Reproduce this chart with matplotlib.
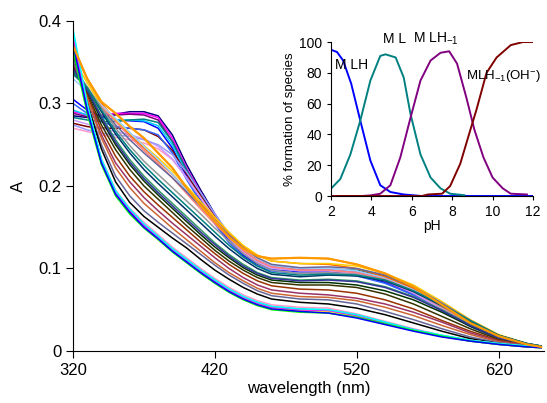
import matplotlib
matplotlib.use("Agg")
import matplotlib.pyplot as plt

plt.rcParams['font.family'] = ['Liberation Sans', 'DejaVu Sans']
plt.rcParams['mathtext.fontset'] = 'custom'
plt.rcParams['mathtext.rm'] = 'Liberation Sans'
plt.rcParams['mathtext.default'] = 'regular'

# wavelengths (nm) at which the spectra are read
wl = [320, 330, 340, 350, 360, 370, 380, 390, 400, 410, 420, 430, 440,
      450, 460, 480, 500, 520, 540, 560, 580, 600, 620, 640, 650]

# shoulder family (low pH)
spec_high = [
    [0.285, 0.283, 0.284, 0.287, 0.290, 0.290, 0.285, 0.262, 0.226, 0.195, 0.166, 0.140, 0.121, 0.109, 0.102, 0.099, 0.099, 0.095, 0.086, 0.071, 0.051, 0.032, 0.016, 0.008, 0.005],
    [0.290, 0.286, 0.286, 0.288, 0.288, 0.288, 0.283, 0.258, 0.222, 0.192, 0.163, 0.138, 0.119, 0.107, 0.101, 0.098, 0.098, 0.094, 0.085, 0.070, 0.050, 0.031, 0.016, 0.008, 0.005],
    [0.288, 0.284, 0.284, 0.286, 0.287, 0.286, 0.280, 0.254, 0.218, 0.188, 0.160, 0.136, 0.118, 0.106, 0.100, 0.097, 0.097, 0.093, 0.084, 0.069, 0.050, 0.031, 0.016, 0.008, 0.005],
    [0.305, 0.292, 0.284, 0.280, 0.279, 0.278, 0.270, 0.246, 0.212, 0.183, 0.156, 0.133, 0.116, 0.105, 0.099, 0.096, 0.096, 0.092, 0.083, 0.068, 0.049, 0.030, 0.015, 0.007, 0.005],
    [0.292, 0.286, 0.282, 0.280, 0.280, 0.279, 0.273, 0.250, 0.216, 0.187, 0.160, 0.137, 0.119, 0.108, 0.102, 0.099, 0.099, 0.096, 0.088, 0.074, 0.054, 0.034, 0.017, 0.008, 0.005],
    [0.283, 0.280, 0.278, 0.278, 0.280, 0.281, 0.277, 0.254, 0.220, 0.190, 0.162, 0.138, 0.120, 0.108, 0.101, 0.098, 0.099, 0.098, 0.091, 0.077, 0.057, 0.036, 0.019, 0.009, 0.006],
    [0.276, 0.272, 0.270, 0.270, 0.270, 0.268, 0.260, 0.243, 0.215, 0.188, 0.162, 0.139, 0.121, 0.109, 0.102, 0.099, 0.099, 0.096, 0.088, 0.073, 0.053, 0.033, 0.017, 0.008, 0.005],
    [0.300, 0.288, 0.278, 0.272, 0.270, 0.268, 0.262, 0.240, 0.208, 0.180, 0.154, 0.131, 0.114, 0.103, 0.097, 0.094, 0.094, 0.091, 0.082, 0.068, 0.049, 0.030, 0.015, 0.007, 0.005],
    [0.270, 0.266, 0.262, 0.259, 0.256, 0.252, 0.245, 0.232, 0.210, 0.186, 0.161, 0.138, 0.120, 0.108, 0.101, 0.098, 0.098, 0.095, 0.086, 0.071, 0.052, 0.032, 0.016, 0.008, 0.005],
    [0.280, 0.275, 0.270, 0.266, 0.262, 0.257, 0.248, 0.233, 0.210, 0.185, 0.160, 0.137, 0.119, 0.107, 0.100, 0.097, 0.097, 0.094, 0.085, 0.070, 0.051, 0.031, 0.016, 0.008, 0.005],
    [0.274, 0.268, 0.264, 0.262, 0.260, 0.256, 0.250, 0.238, 0.217, 0.192, 0.166, 0.142, 0.123, 0.110, 0.103, 0.100, 0.100, 0.097, 0.088, 0.073, 0.053, 0.033, 0.017, 0.008, 0.005],
]
colors_high = ['#000080', '#FF00FF', '#800080', '#0000FF', '#00CCFF', '#008080',
               '#800000', '#3366FF', '#FF99CC', '#CC99FF', '#9999FF']

# intermediate family
spec_orange = [
    [0.370, 0.330, 0.302, 0.288, 0.272, 0.258, 0.240, 0.222, 0.198, 0.176, 0.157, 0.138, 0.124, 0.115, 0.112, 0.113, 0.112, 0.105, 0.094, 0.078, 0.056, 0.034, 0.018, 0.008, 0.005],
    [0.365, 0.330, 0.300, 0.280, 0.262, 0.246, 0.230, 0.214, 0.196, 0.178, 0.160, 0.142, 0.127, 0.116, 0.109, 0.106, 0.105, 0.100, 0.090, 0.076, 0.056, 0.035, 0.018, 0.008, 0.005],
    [0.355, 0.325, 0.298, 0.280, 0.264, 0.249, 0.234, 0.218, 0.200, 0.181, 0.162, 0.144, 0.128, 0.116, 0.109, 0.106, 0.106, 0.103, 0.094, 0.080, 0.060, 0.038, 0.020, 0.009, 0.006],
    [0.330, 0.315, 0.298, 0.282, 0.265, 0.248, 0.232, 0.214, 0.195, 0.176, 0.158, 0.140, 0.124, 0.112, 0.104, 0.100, 0.100, 0.097, 0.088, 0.074, 0.054, 0.034, 0.017, 0.008, 0.005],
    [0.340, 0.318, 0.296, 0.278, 0.260, 0.243, 0.227, 0.210, 0.191, 0.172, 0.154, 0.137, 0.122, 0.110, 0.102, 0.098, 0.098, 0.095, 0.087, 0.073, 0.053, 0.033, 0.017, 0.008, 0.005],
    [0.345, 0.320, 0.294, 0.274, 0.256, 0.240, 0.225, 0.210, 0.193, 0.175, 0.157, 0.140, 0.125, 0.113, 0.105, 0.101, 0.102, 0.100, 0.092, 0.078, 0.058, 0.037, 0.019, 0.009, 0.006],
]
colors_orange = ['#FF9900', '#FF6600', '#FFCC00', '#99CCFF', '#FF8080', '#666699']

# middle family
spec_mid = [
    [0.335, 0.320, 0.295, 0.270, 0.249, 0.230, 0.214, 0.198, 0.182, 0.166, 0.149, 0.133, 0.118, 0.106, 0.098, 0.094, 0.095, 0.093, 0.086, 0.072, 0.054, 0.035, 0.018, 0.009, 0.006],
    [0.338, 0.318, 0.290, 0.263, 0.240, 0.220, 0.203, 0.187, 0.171, 0.155, 0.139, 0.124, 0.111, 0.100, 0.093, 0.090, 0.092, 0.091, 0.085, 0.072, 0.055, 0.036, 0.019, 0.009, 0.006],
    [0.340, 0.318, 0.285, 0.256, 0.232, 0.212, 0.195, 0.179, 0.163, 0.147, 0.131, 0.117, 0.105, 0.095, 0.089, 0.086, 0.087, 0.085, 0.078, 0.066, 0.050, 0.032, 0.017, 0.008, 0.005],
    [0.348, 0.315, 0.280, 0.250, 0.226, 0.206, 0.189, 0.173, 0.157, 0.141, 0.126, 0.113, 0.101, 0.092, 0.086, 0.083, 0.083, 0.080, 0.073, 0.062, 0.047, 0.030, 0.016, 0.008, 0.005],
    [0.345, 0.312, 0.274, 0.244, 0.220, 0.200, 0.184, 0.168, 0.152, 0.137, 0.122, 0.109, 0.098, 0.089, 0.083, 0.080, 0.080, 0.077, 0.069, 0.057, 0.042, 0.027, 0.014, 0.007, 0.005],
    [0.352, 0.310, 0.268, 0.236, 0.212, 0.193, 0.177, 0.162, 0.147, 0.132, 0.118, 0.105, 0.094, 0.085, 0.079, 0.075, 0.074, 0.070, 0.062, 0.051, 0.037, 0.024, 0.013, 0.007, 0.005],
    [0.350, 0.305, 0.262, 0.228, 0.205, 0.186, 0.170, 0.155, 0.141, 0.127, 0.113, 0.100, 0.089, 0.080, 0.074, 0.070, 0.068, 0.064, 0.057, 0.047, 0.035, 0.022, 0.012, 0.007, 0.005],
    [0.342, 0.316, 0.283, 0.253, 0.229, 0.209, 0.192, 0.176, 0.160, 0.144, 0.129, 0.115, 0.103, 0.094, 0.088, 0.085, 0.086, 0.084, 0.077, 0.065, 0.049, 0.031, 0.016, 0.008, 0.005],
    [0.336, 0.319, 0.292, 0.266, 0.244, 0.225, 0.208, 0.192, 0.176, 0.160, 0.144, 0.128, 0.114, 0.103, 0.095, 0.092, 0.093, 0.092, 0.086, 0.073, 0.056, 0.037, 0.019, 0.009, 0.006],
    [0.358, 0.306, 0.258, 0.222, 0.198, 0.179, 0.164, 0.149, 0.135, 0.121, 0.107, 0.095, 0.085, 0.076, 0.070, 0.066, 0.065, 0.061, 0.053, 0.043, 0.031, 0.020, 0.011, 0.006, 0.005],
]
colors_mid = ['#969696', '#003366', '#339966', '#003300', '#333300', '#993300',
              '#993366', '#333399', '#008080', '#CC6633']

# high pH family
spec_low = [
    [0.355, 0.300, 0.250, 0.212, 0.188, 0.170, 0.156, 0.143, 0.130, 0.117, 0.104, 0.092, 0.082, 0.073, 0.067, 0.063, 0.062, 0.057, 0.048, 0.038, 0.027, 0.017, 0.010, 0.006, 0.005],
    [0.362, 0.300, 0.245, 0.205, 0.180, 0.163, 0.150, 0.137, 0.125, 0.111, 0.098, 0.087, 0.077, 0.069, 0.063, 0.059, 0.057, 0.052, 0.044, 0.034, 0.024, 0.015, 0.009, 0.006, 0.005],
    [0.378, 0.296, 0.233, 0.195, 0.173, 0.156, 0.141, 0.126, 0.113, 0.100, 0.088, 0.077, 0.068, 0.061, 0.056, 0.053, 0.052, 0.045, 0.036, 0.027, 0.019, 0.013, 0.009, 0.006, 0.005],
    [0.385, 0.298, 0.232, 0.194, 0.171, 0.153, 0.139, 0.124, 0.111, 0.098, 0.086, 0.075, 0.066, 0.059, 0.054, 0.051, 0.050, 0.044, 0.035, 0.026, 0.019, 0.013, 0.009, 0.006, 0.005],
    [0.368, 0.290, 0.228, 0.191, 0.169, 0.151, 0.137, 0.122, 0.109, 0.096, 0.084, 0.073, 0.064, 0.057, 0.052, 0.049, 0.048, 0.042, 0.033, 0.025, 0.018, 0.012, 0.008, 0.005, 0.004],
    [0.380, 0.295, 0.230, 0.192, 0.170, 0.152, 0.138, 0.123, 0.110, 0.097, 0.085, 0.074, 0.065, 0.058, 0.053, 0.050, 0.049, 0.043, 0.034, 0.026, 0.018, 0.012, 0.008, 0.005, 0.004],
    [0.390, 0.300, 0.232, 0.194, 0.172, 0.154, 0.139, 0.124, 0.111, 0.098, 0.086, 0.075, 0.066, 0.059, 0.054, 0.051, 0.050, 0.044, 0.035, 0.026, 0.019, 0.013, 0.009, 0.006, 0.005],
    [0.365, 0.288, 0.226, 0.188, 0.166, 0.149, 0.135, 0.120, 0.107, 0.094, 0.082, 0.071, 0.062, 0.055, 0.050, 0.047, 0.046, 0.041, 0.033, 0.025, 0.018, 0.012, 0.008, 0.005, 0.004],
    [0.372, 0.292, 0.228, 0.190, 0.168, 0.150, 0.136, 0.121, 0.108, 0.095, 0.083, 0.072, 0.063, 0.056, 0.051, 0.048, 0.046, 0.040, 0.032, 0.024, 0.017, 0.012, 0.008, 0.005, 0.004],
]
colors_low = ['#666699', '#000000', '#FF99CC', '#33CCCC', '#FFFF00', '#FF00FF',
              '#00FFFF', '#00FF00', '#0000FF']

# species distribution (inset)
ph_mlh = [2.0, 2.3, 2.6, 3.0, 3.45, 3.95, 4.44, 4.94, 5.6, 6.5, 8, 10, 12]
pc_mlh = [95, 93.5, 88, 73, 49, 23, 7, 2.6, 1, 0, 0, 0, 0]
ph_ml = [2.0, 2.46, 2.96, 3.45, 3.95, 4.44, 4.7, 5.2, 5.6, 5.94, 6.43, 6.93, 7.42, 7.9, 8.6]
pc_ml = [4.8, 11, 27, 49, 75, 91, 92, 90, 77, 53, 27, 12, 5, 1.5, 0.5]
ph_mlh1 = [2.0, 3.5, 3.95, 4.44, 4.94, 5.43, 5.94, 6.43, 6.93, 7.42, 7.85, 8.24, 8.7, 9.1, 9.55, 10.0, 10.5, 10.9, 11.7]
pc_mlh1 = [0, 0, 0.4, 1.5, 7, 25, 51, 75, 88, 93, 94, 86, 64, 43, 25, 12, 5, 1.5, 1]
ph_oh = [2.0, 6.5, 6.8, 7.5, 7.9, 8.4, 8.9, 9.2, 9.7, 10.2, 10.9, 11.5, 12.0]
pc_oh = [0, 0, 1, 1.5, 6.5, 21, 43, 56, 80, 90, 98, 100, 100]

fig = plt.figure(figsize=(5.47, 4.03), dpi=100)
ax = fig.add_axes([0.1335, 0.129, 0.861, 0.819])

for group, cols in [(spec_high, colors_high), (spec_orange, colors_orange),
                    (spec_mid, colors_mid), (spec_low, colors_low)]:
    for s, c in zip(group, cols):
        ax.plot(wl, s, color=c, lw=1.1)
# orange curve on top
ax.plot(wl, spec_orange[0], color='#FF9900', lw=1.6)

ax.set_xlim(320, 652)
ax.set_ylim(0, 0.4)
ax.set_xticks([320, 420, 520, 620])
ax.set_yticks([0, 0.1, 0.2, 0.3, 0.4])
ax.set_yticklabels(['0', '0.1', '0.2', '0.3', '0.4'])
ax.spines['top'].set_visible(False)
ax.spines['right'].set_visible(False)
ax.tick_params(direction='out', length=5, labelsize=12)
ax.set_xlabel('wavelength (nm)', fontsize=12, labelpad=2)
ax.set_ylabel('A', fontsize=12, labelpad=9)

ins = fig.add_axes([0.6051, 0.5136, 0.3693, 0.3821])
ins.set_facecolor('none')
ins.plot(ph_mlh, pc_mlh, color='#0000FF', lw=1.4)
ins.plot(ph_ml, pc_ml, color='#008080', lw=1.4)
ins.plot(ph_mlh1, pc_mlh1, color='#800080', lw=1.4)
ins.plot(ph_oh, pc_oh, color='#800000', lw=1.4)
ins.set_xlim(2, 12)
ins.set_ylim(0, 100)
ins.set_xticks([2, 4, 6, 8, 10, 12])
ins.set_yticks([0, 20, 40, 60, 80, 100])
ins.spines['top'].set_visible(False)
ins.spines['right'].set_visible(False)
ins.tick_params(direction='out', length=3, labelsize=10)
ins.set_xlabel('pH', fontsize=10, labelpad=0)
ins.set_ylabel('% formation of species', fontsize=9.5, labelpad=2)

ins.text(2.2, 85, 'M LH', fontsize=10, va='center')
ins.text(4.55, 102, 'M L', fontsize=10, va='center')
ins.text(6.05, 102, r'M LH$_{-1}$', fontsize=10, va='center')
ins.text(8.7, 78, r'MLH$_{-1}$(OH$^{-}$)', fontsize=9.5, va='center')

fig.savefig('out.png', dpi=100)
